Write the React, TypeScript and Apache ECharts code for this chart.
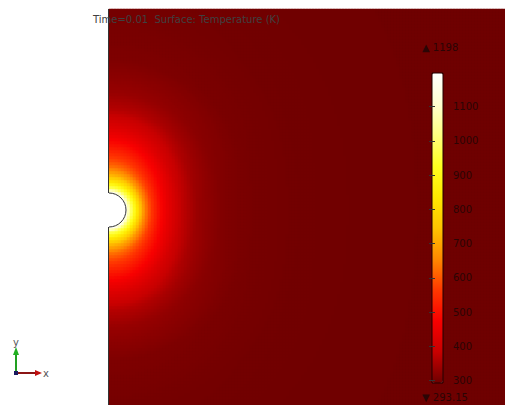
import React, { useEffect, useRef } from "react";
import * as echarts from "echarts";

const T_MIN = 293.15;
const T_MAX = 1198;
const COLORBAR_TICKS = [300, 400, 500, 600, 700, 800, 900, 1000, 1100];
const TITLE = "Time=0.01  Surface: Temperature (K)";

// temperature read from the picture vs distance from the notch centre
// along the horizontal direction (into the plate)
const H_DIST = [17, 21, 26, 31, 36, 43, 51, 59, 73, 89, 113, 146, 196, 260, 400];
const H_TEMP = [1198, 1030, 900, 760, 650, 560, 490, 440, 375, 335, 312, 302, 297, 295, 294];
// along the vertical direction (along the left edge)
const V_DIST = [17, 22, 28, 35, 43, 50, 57, 67, 73, 83, 100, 117, 150, 200, 260, 400];
const V_TEMP = [1198, 980, 840, 720, 630, 580, 540, 490, 460, 420, 365, 335, 310, 300, 296, 294];

// colour map (ThermalLight-like), evenly spread from T_MIN to T_MAX
const COLORS = [
  "#6e0000", "#c80000", "#f80000", "#ff3800", "#ff8800", "#ffc400",
  "#ffe800", "#ffff20", "#ffff80", "#ffffd0", "#ffffff",
];

// domain sampling
const NX = 132;
const NY = 132;
const CELL = 3;
const NOTCH_Y = 195; // from bottom of domain
const HOLE_R = 17;

function lookup(d: number[], t: number[], r: number): number {
  if (r <= d[0]) return t[0];
  for (let k = 1; k < d.length; k++) {
    if (r <= d[k]) {
      const f = (r - d[k - 1]) / (d[k] - d[k - 1]);
      return t[k - 1] + f * (t[k] - t[k - 1]);
    }
  }
  return t[t.length - 1];
}

function buildField() {
  const out: [number, number, number][] = [];
  for (let i = 0; i < NX; i++) {
    for (let j = 0; j < NY; j++) {
      const dx = (i + 0.5) * CELL;
      const dy = (j + 0.5) * CELL - NOTCH_Y;
      const r = Math.sqrt(dx * dx + dy * dy);
      let T: number;
      if (r <= HOLE_R) T = T_MAX;
      else {
        const c2 = (dx * dx) / (r * r);
        const s2 = 1 - c2;
        T = c2 * lookup(H_DIST, H_TEMP, r) + s2 * lookup(V_DIST, V_TEMP, r);
      }
      out.push([i, j, Math.min(T_MAX, Math.max(T_MIN, T))]);
    }
  }
  return out;
}

export default function App() {
  const ref = useRef<HTMLDivElement>(null);
  useEffect(() => {
    document.body.style.margin = "0";
    if (!ref.current) return;
    const chart = echarts.init(ref.current, null, { renderer: "svg" });
    const idx = (n: number) => Array.from({ length: n }, (_, k) => String(k));
    const gridL = 109, gridT = 9, gridW = NX * CELL, gridH = NY * CELL;
    const notchCx = gridL;
    const notchCy = gridT + gridH - NOTCH_Y;
    const cbL = 432, cbT = 73, cbW = 11, cbH = 310;
    const font = "DejaVu Sans, sans-serif";
    const txtDark = "#2a0505";
    chart.setOption({
      animation: false,
      backgroundColor: "#ffffff",
      grid: [
        { left: gridL, top: gridT, width: gridW, height: gridH, show: true, backgroundColor: COLORS[0], borderWidth: 0 },
        { left: cbL, top: cbT, width: cbW, height: cbH, show: true, backgroundColor: "transparent", borderColor: "#220000", borderWidth: 1, z: 10 },
      ],
      xAxis: [
        { type: "category", data: idx(NX), show: false, gridIndex: 0 },
        { type: "value", show: false, gridIndex: 1 },
      ],
      yAxis: [
        { type: "category", data: idx(NY), show: false, gridIndex: 0 },
        {
          type: "value", gridIndex: 1, min: T_MIN, max: T_MAX, position: "right", z: 10,
          axisLine: { show: false },
          splitLine: { show: false },
          axisTick: { show: true, inside: true, length: 3, customValues: COLORBAR_TICKS, lineStyle: { color: "#333", width: 1 } },
          axisLabel: { customValues: COLORBAR_TICKS, color: txtDark, fontSize: 10, fontFamily: font, margin: 10, formatter: (v: number) => String(v) },
        },
        {
          type: "value", gridIndex: 1, min: T_MIN, max: T_MAX, position: "left", z: 10,
          axisLine: { show: false },
          splitLine: { show: false },
          axisTick: { show: true, inside: true, length: 3, customValues: COLORBAR_TICKS, lineStyle: { color: "#333", width: 1 } },
          axisLabel: { show: false },
        },
      ],
      visualMap: {
        type: "continuous",
        min: T_MIN,
        max: T_MAX,
        seriesIndex: 0,
        calculable: false,
        orient: "vertical",
        left: cbL,
        top: cbT,
        itemWidth: cbW,
        itemHeight: cbH,
        padding: 0,
        inRange: { color: COLORS },
      },
      series: [
        {
          type: "heatmap",
          xAxisIndex: 0,
          yAxisIndex: 0,
          data: buildField(),
          progressive: 0,
          emphasis: { disabled: true },
          itemStyle: { borderWidth: 0 },
        },
      ],
      graphic: [
        { type: "circle", shape: { cx: notchCx, cy: notchCy, r: HOLE_R }, style: { fill: "#ffffff" }, z: 50 },
        { type: "arc", shape: { cx: notchCx, cy: notchCy, r: HOLE_R, startAngle: -Math.PI / 2, endAngle: Math.PI / 2, clockwise: true }, style: { stroke: "#333", lineWidth: 1, fill: "none" }, z: 51 },
        { type: "line", shape: { x1: gridL - 0.5, y1: gridT, x2: gridL - 0.5, y2: notchCy - HOLE_R }, style: { stroke: "#333", lineWidth: 1 }, z: 51 },
        { type: "line", shape: { x1: gridL - 0.5, y1: notchCy + HOLE_R, x2: gridL - 0.5, y2: gridT + gridH }, style: { stroke: "#333", lineWidth: 1 }, z: 51 },
        { type: "text", x: 93, y: 19, style: { text: TITLE, fill: "#404040", fontSize: 10, fontFamily: font, verticalAlign: "middle" }, z: 60 },
        { type: "text", x: 422, y: 47, style: { text: "▲ " + T_MAX, fill: txtDark, fontSize: 10, fontFamily: font, verticalAlign: "middle" }, z: 60 },
        { type: "text", x: 422, y: 397, style: { text: "▼ " + T_MIN.toFixed(2), fill: txtDark, fontSize: 10, fontFamily: font, verticalAlign: "middle" }, z: 60 },
        // coordinate triad
        { type: "line", shape: { x1: 16, y1: 373, x2: 16, y2: 354 }, style: { stroke: "#22a022", lineWidth: 2 }, z: 60 },
        { type: "polygon", shape: { points: [[13, 355], [19, 355], [16, 347]] }, style: { fill: "#22b022" }, z: 60 },
        { type: "line", shape: { x1: 16, y1: 373, x2: 36, y2: 373 }, style: { stroke: "#8b1515", lineWidth: 2 }, z: 60 },
        { type: "polygon", shape: { points: [[35, 370], [35, 376], [42, 373]] }, style: { fill: "#c01010" }, z: 60 },
        { type: "rect", shape: { x: 14, y: 371, width: 4, height: 4 }, style: { fill: "#1a1a60" }, z: 61 },
        { type: "text", x: 16, y: 342, style: { text: "y", fill: "#555", fontSize: 10, fontFamily: font, align: "center", verticalAlign: "middle" }, z: 60 },
        { type: "text", x: 43, y: 373, style: { text: "x", fill: "#555", fontSize: 10, fontFamily: font, verticalAlign: "middle" }, z: 60 },
      ],
    });
    return () => chart.dispose();
  }, []);
  return <div ref={ref} style={{ width: 505, height: 405 }} />;
}
